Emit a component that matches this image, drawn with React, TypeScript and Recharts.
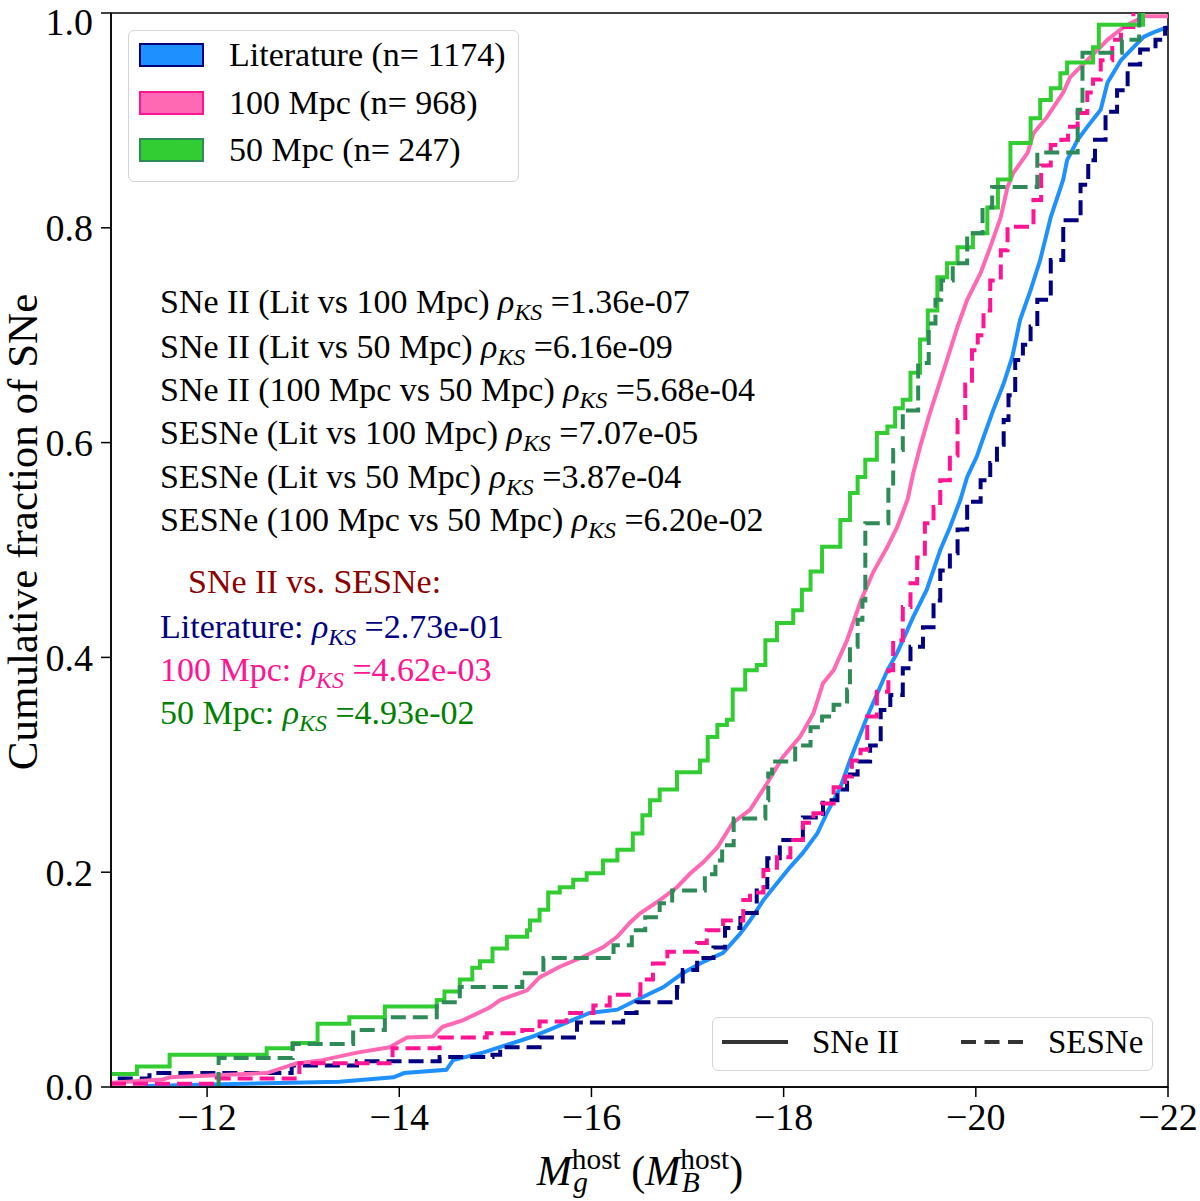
import React from 'react';
import { LineChart, Line, XAxis, YAxis, ReferenceArea } from 'recharts';

type Pt = [number, number];

const FONT = '"Liberation Serif", "Times New Roman", serif';

// host absolute magnitude vs cumulative fraction, one list per sample/type
const litII: Pt[] = [
  [-11.35, 0.001], [-13.38, 0.005], [-13.94, 0.009], [-14.05, 0.013], [-14.49, 0.016], [-14.56, 0.025],
  [-14.87, 0.032], [-15.39, 0.047], [-15.74, 0.060], [-15.98, 0.069], [-16.27, 0.072], [-16.47, 0.081],
  [-16.75, 0.093], [-16.95, 0.106], [-17.13, 0.115], [-17.37, 0.125], [-17.55, 0.143], [-17.65, 0.155],
  [-17.79, 0.174], [-17.96, 0.193], [-18.07, 0.205], [-18.2, 0.218], [-18.35, 0.236], [-18.45, 0.255],
  [-18.59, 0.279], [-18.69, 0.304], [-18.87, 0.345], [-19.08, 0.388], [-19.18, 0.404], [-19.35, 0.438],
  [-19.49, 0.463], [-19.63, 0.5], [-19.73, 0.521], [-19.84, 0.547], [-19.91, 0.568], [-20.01, 0.587],
  [-20.08, 0.605], [-20.18, 0.63], [-20.29, 0.655], [-20.38, 0.68], [-20.46, 0.714], [-20.57, 0.742],
  [-20.67, 0.77], [-20.78, 0.81], [-20.91, 0.845], [-20.95, 0.863], [-21.06, 0.882], [-21.16, 0.894],
  [-21.3, 0.91], [-21.37, 0.935], [-21.51, 0.956], [-21.64, 0.968], [-21.75, 0.978], [-21.85, 0.982],
  [-22.0, 0.987],
];

const litSE: Pt[] = [
  [-11.07, 0.008], [-11.4, 0.011], [-11.47, 0.013], [-12.88, 0.02], [-13.56, 0.024], [-14.42, 0.028],
  [-14.97, 0.03], [-15.05, 0.037], [-15.46, 0.046], [-15.85, 0.06], [-16.33, 0.069], [-16.47, 0.079],
  [-16.89, 0.093], [-16.95, 0.109], [-17.1, 0.12], [-17.27, 0.13], [-17.39, 0.148], [-17.55, 0.162],
  [-17.72, 0.186], [-17.83, 0.213], [-17.96, 0.23], [-18.2, 0.251], [-18.41, 0.267], [-18.56, 0.277],
  [-18.66, 0.291], [-18.77, 0.303], [-18.9, 0.318], [-19.01, 0.351], [-19.11, 0.365], [-19.24, 0.39],
  [-19.32, 0.41], [-19.45, 0.428], [-19.56, 0.453], [-19.63, 0.481], [-19.73, 0.497], [-19.81, 0.519],
  [-19.91, 0.545], [-20.05, 0.565], [-20.15, 0.581], [-20.22, 0.598], [-20.29, 0.621], [-20.34, 0.644],
  [-20.41, 0.677], [-20.49, 0.691], [-20.57, 0.708], [-20.64, 0.733], [-20.78, 0.77], [-20.91, 0.807],
  [-21.09, 0.84], [-21.17, 0.863], [-21.24, 0.882], [-21.35, 0.908], [-21.47, 0.928], [-21.58, 0.952],
  [-21.71, 0.966], [-21.87, 0.975], [-21.97, 0.986], [-22.0, 0.986],
];

const mpc100II: Pt[] = [
  [-11.0, 0.004], [-11.54, 0.007], [-11.61, 0.009], [-12.62, 0.013], [-12.93, 0.022], [-13.2, 0.025],
  [-13.56, 0.032], [-13.9, 0.037], [-14.08, 0.046], [-14.35, 0.047], [-14.45, 0.056], [-14.66, 0.062],
  [-14.94, 0.074], [-15.05, 0.081], [-15.33, 0.09], [-15.46, 0.102], [-15.67, 0.112], [-15.91, 0.121],
  [-16.12, 0.13], [-16.27, 0.14], [-16.4, 0.153], [-16.51, 0.162], [-16.68, 0.172], [-16.89, 0.186],
  [-17.03, 0.199], [-17.16, 0.209], [-17.31, 0.223], [-17.47, 0.246], [-17.65, 0.258], [-17.83, 0.283],
  [-17.99, 0.307], [-18.17, 0.326], [-18.31, 0.348], [-18.41, 0.376], [-18.52, 0.388], [-18.66, 0.416],
  [-18.8, 0.452], [-18.93, 0.479], [-19.08, 0.503], [-19.18, 0.521], [-19.29, 0.547], [-19.35, 0.572],
  [-19.42, 0.596], [-19.51, 0.624], [-19.6, 0.649], [-19.7, 0.677], [-19.81, 0.708], [-19.91, 0.733],
  [-20.05, 0.758], [-20.15, 0.782], [-20.26, 0.81], [-20.33, 0.838], [-20.39, 0.851], [-20.54, 0.87],
  [-20.6, 0.888], [-20.74, 0.903], [-20.91, 0.926], [-20.98, 0.94], [-21.16, 0.956], [-21.37, 0.975],
  [-21.54, 0.987], [-21.75, 0.997], [-22.0, 0.997],
];

const mpc100SE: Pt[] = [
  [-11.0, 0.003], [-12.1, 0.008], [-12.96, 0.022], [-13.93, 0.036], [-14.42, 0.046], [-14.91, 0.05],
  [-15.28, 0.053], [-15.46, 0.061], [-15.74, 0.069], [-16.02, 0.076], [-16.19, 0.086], [-16.51, 0.1],
  [-16.64, 0.115], [-16.79, 0.126], [-17.1, 0.134], [-17.2, 0.146], [-17.37, 0.155], [-17.58, 0.174],
  [-17.65, 0.181], [-17.79, 0.202], [-17.93, 0.214], [-18.07, 0.23], [-18.2, 0.246], [-18.31, 0.255],
  [-18.4, 0.264], [-18.52, 0.279], [-18.64, 0.289], [-18.71, 0.304], [-18.8, 0.314], [-18.87, 0.345],
  [-18.97, 0.368], [-19.09, 0.388], [-19.14, 0.416], [-19.24, 0.447], [-19.32, 0.469], [-19.39, 0.493],
  [-19.47, 0.525], [-19.56, 0.54], [-19.63, 0.565], [-19.73, 0.588], [-19.81, 0.621], [-19.89, 0.654],
  [-19.96, 0.686], [-20.02, 0.7], [-20.08, 0.723], [-20.15, 0.751], [-20.26, 0.779], [-20.33, 0.801],
  [-20.6, 0.826], [-20.68, 0.858], [-20.78, 0.877], [-20.89, 0.882], [-20.96, 0.894], [-21.06, 0.907],
  [-21.16, 0.926], [-21.22, 0.938], [-21.3, 0.956], [-21.42, 0.975], [-21.51, 0.987], [-21.64, 1.0],
];

const mpc50II: Pt[] = [
  [-11.0, 0.012], [-11.27, 0.019], [-11.61, 0.03], [-12.62, 0.036], [-12.89, 0.041], [-13.15, 0.059],
  [-13.48, 0.065], [-13.85, 0.075], [-14.39, 0.081], [-14.47, 0.089], [-14.63, 0.1], [-14.76, 0.111],
  [-14.84, 0.117], [-14.97, 0.129], [-15.12, 0.14], [-15.33, 0.146], [-15.36, 0.155], [-15.46, 0.165],
  [-15.55, 0.181], [-15.67, 0.186], [-15.81, 0.193], [-15.95, 0.199], [-16.12, 0.211], [-16.27, 0.221],
  [-16.43, 0.236], [-16.53, 0.253], [-16.61, 0.267], [-16.71, 0.277], [-16.89, 0.293], [-17.13, 0.304],
  [-17.21, 0.326], [-17.31, 0.337], [-17.41, 0.342], [-17.47, 0.37], [-17.6, 0.388], [-17.72, 0.393],
  [-17.81, 0.416], [-17.93, 0.432], [-18.1, 0.444], [-18.19, 0.463], [-18.28, 0.48], [-18.4, 0.503],
  [-18.59, 0.528], [-18.69, 0.553], [-18.77, 0.568], [-18.85, 0.584], [-18.97, 0.609], [-19.08, 0.615],
  [-19.16, 0.632], [-19.24, 0.64], [-19.32, 0.665], [-19.42, 0.696], [-19.5, 0.723], [-19.6, 0.754],
  [-19.7, 0.767], [-19.81, 0.782], [-19.97, 0.795], [-20.12, 0.819], [-20.23, 0.845], [-20.36, 0.879],
  [-20.57, 0.902], [-20.67, 0.919], [-20.78, 0.93], [-20.88, 0.944], [-20.95, 0.954], [-21.22, 0.968],
  [-21.28, 0.989], [-21.74, 1.0],
];

const mpc50SE: Pt[] = [
  [-12.12, 0], [-12.12, 0.027], [-12.89, 0.04], [-13.52, 0.053], [-13.85, 0.065], [-14.39, 0.079],
  [-14.63, 0.093], [-15.28, 0.106], [-15.5, 0.12], [-16.23, 0.132], [-16.42, 0.146], [-16.56, 0.158],
  [-16.71, 0.171], [-16.84, 0.183], [-17.18, 0.198], [-17.29, 0.211], [-17.36, 0.225], [-17.48, 0.25],
  [-17.81, 0.267], [-17.84, 0.292], [-17.88, 0.303], [-18.12, 0.318], [-18.28, 0.335], [-18.4, 0.345],
  [-18.52, 0.356], [-18.66, 0.37], [-18.69, 0.41], [-18.77, 0.435], [-18.82, 0.453], [-18.85, 0.525],
  [-19.09, 0.556], [-19.14, 0.593], [-19.24, 0.63], [-19.4, 0.674], [-19.51, 0.711], [-19.58, 0.733],
  [-19.64, 0.751], [-19.76, 0.767], [-19.91, 0.795], [-20.07, 0.819], [-20.17, 0.838], [-20.64, 0.87],
  [-21.06, 0.91], [-21.11, 0.963], [-21.52, 0.975], [-21.7, 1.0],
];

const xMajor = [-12, -14, -16, -18, -20, -22];
const xMinor = [-11.5, -12, -12.5, -13, -13.5, -14, -14.5, -15, -15.5, -16, -16.5, -17, -17.5, -18, -18.5, -19, -19.5, -20, -20.5, -21, -21.5, -22];
const yMajor = [0, 0.2, 0.4, 0.6, 0.8, 1.0];
const yMinor = [0.05, 0.1, 0.15, 0.2, 0.25, 0.3, 0.35, 0.4, 0.45, 0.5, 0.55, 0.6, 0.65, 0.7, 0.75, 0.8, 0.85, 0.9, 0.95];

const sampleNames = ['Literature', '100 Mpc', '50 Mpc'];
const sampleCounts = [1174, 968, 247];
const sampleFill = ['#1E90FF', '#FF69B4', '#32CD32'];
const sampleEdge = ['#000080', '#FF1493', '#2E8B57'];

const ksPairs = [
  'SNe II (Lit vs 100 Mpc)', 'SNe II (Lit vs 50 Mpc)', 'SNe II (100 Mpc vs 50 Mpc)',
  'SESNe (Lit vs 100 Mpc)', 'SESNe (Lit vs 50 Mpc)', 'SESNe (100 Mpc vs 50 Mpc)',
];
const ksValues = ['1.36e-07', '6.16e-09', '5.68e-04', '7.07e-05', '3.87e-04', '6.20e-02'];

const typeNames = ['Literature:', '100 Mpc:', '50 Mpc:'];
const typeValues = ['2.73e-01', '4.62e-03', '4.93e-02'];
const typeColors = ['#000080', '#FF1493', '#008000'];

const series = [
  { key: 'litII', pts: litII, color: '#1E90FF', dashed: false },
  { key: 'litSE', pts: litSE, color: '#000080', dashed: true },
  { key: '100II', pts: mpc100II, color: '#FF69B4', dashed: false },
  { key: '100SE', pts: mpc100SE, color: '#FF1493', dashed: true },
  { key: '50II', pts: mpc50II, color: '#32CD32', dashed: false },
  { key: '50SE', pts: mpc50SE, color: '#2E8B57', dashed: true },
];

const toRows = (pts: Pt[]) => pts.map(([x, y]) => ({ x, y }));
const fmtX = (v: number) => (v < 0 ? '\u2212' + Math.abs(v) : String(v));

const Rho = () => (
  <>
    <i>ρ</i>
    <i style={{ fontSize: '0.7em', position: 'relative', top: '0.3em' }}>KS</i>
  </>
);

const SubSup = ({ sub, sup }: { sub: string; sup: string }) => (
  <span style={{ display: 'inline-block', position: 'relative', fontSize: '0.7em', lineHeight: 1 }}>
    <span style={{ position: 'relative', top: '-0.55em' }}>{sup}</span>
    <i style={{ position: 'absolute', left: '0.05em', bottom: '-0.25em' }}>{sub}</i>
  </span>
);

const abs = (left: number, top: number, extra: React.CSSProperties = {}): React.CSSProperties => ({
  position: 'absolute', left, top, whiteSpace: 'nowrap', lineHeight: 1, ...extra,
});

export default function App() {
  const legendRows = [55, 103, 150];
  const ksRows = [302, 347, 390, 433, 477, 520];
  const typeRows = [627, 670, 713];
  const fs = 34;

  return (
    <div style={{ position: 'absolute', left: 0, top: 0, width: 1200, height: 1201, background: '#fff', fontFamily: FONT, color: '#000' }}>
      <LineChart width={1200} height={1201} margin={{ top: 13, right: 32, bottom: 0, left: 0 }}>
        <XAxis
          type="number" dataKey="x" domain={[-22, -11]} reversed allowDataOverflow
          ticks={xMajor} tickFormatter={fmtX} tickSize={10} tickMargin={6} height={114}
          axisLine={{ stroke: '#000', strokeWidth: 1.5 }} tickLine={{ stroke: '#000', strokeWidth: 1.5 }}
          tick={{ fill: '#000', fontSize: 38, fontFamily: FONT }}
        />
        <XAxis
          xAxisId="minor" type="number" dataKey="x" domain={[-22, -11]} reversed allowDataOverflow
          ticks={xMinor} mirror tick={false} tickSize={10} axisLine={false}
          tickLine={{ stroke: '#000', strokeWidth: 1.2 }}
        />
        <YAxis
          type="number" domain={[0, 1]} allowDataOverflow ticks={yMajor}
          tickFormatter={(v: number) => v.toFixed(1)} tickSize={10} tickMargin={8} width={111}
          axisLine={{ stroke: '#000', strokeWidth: 1.5 }} tickLine={{ stroke: '#000', strokeWidth: 1.5 }}
          tick={{ fill: '#000', fontSize: 38, fontFamily: FONT }}
        />
        <YAxis
          yAxisId="minor" type="number" domain={[0, 1]} allowDataOverflow ticks={yMinor}
          mirror tick={false} tickSize={10} axisLine={false}
          tickLine={{ stroke: '#000', strokeWidth: 1.2 }}
        />
        {series.map((s) => (
          <Line
            key={s.key}
            data={toRows(s.pts)}
            dataKey="y"
            type={s.dashed || s.key === '50II' ? 'stepAfter' : 'linear'}
            stroke={s.color}
            strokeWidth={4}
            strokeDasharray={s.dashed ? '15 7' : undefined}
            dot={false}
            activeDot={false}
            isAnimationActive={false}
          />
        ))}
        <ReferenceArea x1={-22} x2={-11} y1={0} y2={1} fill="none" stroke="#000" strokeWidth={1.5} ifOverflow="visible" />
      </LineChart>

      {/* sample legend */}
      <div style={{ position: 'absolute', left: 128, top: 30, width: 391, height: 152, boxSizing: 'border-box', border: '1.5px solid #d4d4d4', borderRadius: 6, background: 'rgba(255,255,255,0.8)' }} />
      {sampleNames.map((name, i) => (
        <React.Fragment key={name}>
          <div style={{ position: 'absolute', left: 139, top: legendRows[i] - 12, width: 65, height: 24, boxSizing: 'border-box', background: sampleFill[i], border: `2px solid ${sampleEdge[i]}` }} />
          <div style={abs(229, legendRows[i] - 0.51 * fs, { fontSize: fs })}>{name} (n= {sampleCounts[i]})</div>
        </React.Fragment>
      ))}

      {/* KS test results */}
      {ksPairs.map((p, i) => (
        <div key={p} style={abs(160, ksRows[i] - 0.51 * fs, { fontSize: fs })}>
          {p} <Rho /> ={ksValues[i]}
        </div>
      ))}
      <div style={abs(188, 582 - 0.51 * fs, { fontSize: fs, color: '#8B0000' })}>SNe II vs. SESNe:</div>
      {typeNames.map((t, i) => (
        <div key={t} style={abs(160, typeRows[i] - 0.51 * fs, { fontSize: fs, color: typeColors[i] })}>
          {t} <Rho /> ={typeValues[i]}
        </div>
      ))}

      {/* line style legend */}
      <div style={{ position: 'absolute', left: 712, top: 1017, width: 441, height: 54, boxSizing: 'border-box', border: '1.5px solid #d4d4d4', borderRadius: 6, background: 'rgba(255,255,255,0.8)' }} />
      <svg style={{ position: 'absolute', left: 712, top: 1017 }} width={441} height={54}>
        <line x1={10} x2={76} y1={25} y2={25} stroke="#333" strokeWidth={4} />
        <line x1={249} x2={311} y1={25} y2={25} stroke="#333" strokeWidth={4} strokeDasharray="15 8.5" />
      </svg>
      <div style={abs(812, 1043 - 0.51 * 33, { fontSize: 33 })}>SNe II</div>
      <div style={abs(1048, 1043 - 0.51 * 33, { fontSize: 33 })}>SESNe</div>

      {/* axis titles */}
      <div style={abs(22, 532, { fontSize: 43, transform: 'translate(-50%, -50%) rotate(-90deg)' })}>Cumulative fraction of SNe</div>
      <div style={abs(640, 1150, { fontSize: 42, transform: 'translateX(-50%)' })}>
        <i>M</i><SubSup sub="g" sup="host" /> (<i>M</i><SubSup sub="B" sup="host" />)
      </div>
    </div>
  );
}
